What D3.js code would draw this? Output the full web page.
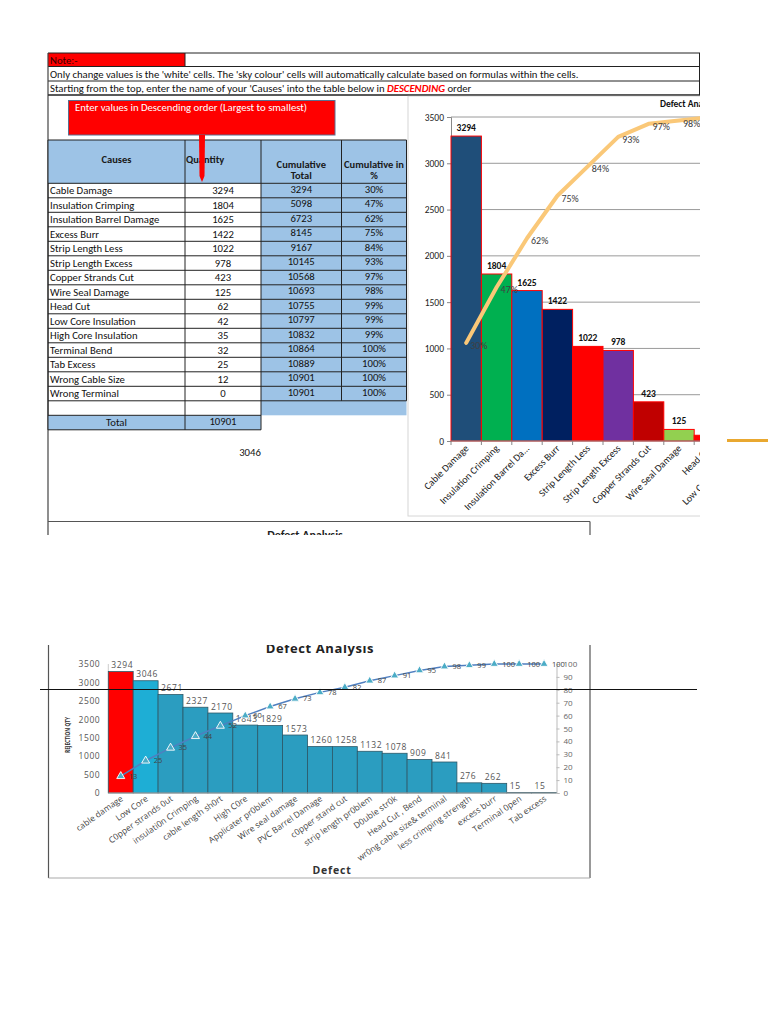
<!DOCTYPE html>
<html><head><meta charset="utf-8">
<script src="https://cdn.jsdelivr.net/npm/d3@7"></script>
<style>body{margin:0;background:#fff}svg{display:block}</style>
</head><body><svg id="c" width="768" height="1024"></svg>
<script>
// ---------- DATA (spreadsheet / top chart) ----------
const causes = ["Cable Damage","Insulation Crimping","Insulation Barrel Damage","Excess Burr","Strip Length Less","Strip Length Excess","Copper Strands Cut","Wire Seal Damage","Head Cut","Low Core Insulation","High Core Insulation","Terminal Bend","Tab Excess","Wrong Cable Size","Wrong Terminal"];
const quantities = [3294,1804,1625,1422,1022,978,423,125,62,42,35,32,25,12,0];
const cumTotals = [3294,5098,6723,8145,9167,10145,10568,10693,10755,10797,10832,10864,10889,10901,10901];
const cumPercents = [30,47,62,75,84,93,97,98,99,99,99,100,100,100,100];
const totalQty = 10901;
const looseValue = 3046;
const topBarColors = ["#1F4E79","#00B050","#0070C0","#002060","#FF0000","#7030A0","#C00000","#92D050","#FF0000","#FFC000","#4472C4","#A5A5A5","#ED7D31","#5B9BD5","#70AD47"];
const topYTicks = [0,500,1000,1500,2000,2500,3000,3500];

// ---------- DATA (bottom chart) ----------
const defects = ["cable damage","Low Core","C0pper strands 0ut","insulati0n Crimping","cable length sh0rt","High C0re","Applicater pr0blem","Wire seal damage","PVC Barrel Damage","c0pper stand cut","strip length pr0blem","D0uble str0k","Head Cut , Bend","wr0ng cable size& terminal","less crimping strength","excess burr","Terminal 0pen","Tab excess"];
const rejections = [3294,3046,2671,2327,2170,1843,1829,1573,1260,1258,1132,1078,909,841,276,262,15,15];
const defectPercents = [13,25,35,44,52,60,67,73,78,82,87,91,95,98,99,100,100,100];
const leftTicks = [0,500,1000,1500,2000,2500,3000,3500];
const rightTicks = [0,10,20,30,40,50,60,70,80,90,100];

const svg = d3.select("#c");
const FONT = "Carlito, Lato, 'Liberation Sans', sans-serif";
const FS = 10.7;
const CLIPX = 700;
const defs = svg.append("defs");
defs.append("clipPath").attr("id","clipAll").append("rect").attr("x",0).attr("y",0).attr("width",CLIPX).attr("height",535);
defs.append("clipPath").attr("id","clipChart").append("rect").attr("x",408).attr("y",95).attr("width",CLIPX-408).attr("height",421);
defs.append("clipPath").attr("id","clipBottom").append("rect").attr("x",0).attr("y",645).attr("width",768).attr("height",380);

const gTop = svg.append("g").attr("clip-path","url(#clipAll)").style("font-family",FONT);

// ---------- note rows ----------
gTop.append("rect").attr("x",48).attr("y",53).attr("width",137).attr("height",13.5).attr("fill","#FF0000");
const ln = (g,x1,y1,x2,y2,c,w)=>g.append("line").attr("x1",x1).attr("y1",y1).attr("x2",x2).attr("y2",y2).attr("stroke",c||"#222").attr("stroke-width",w||1);
ln(gTop,48,53,700,53); ln(gTop,48,66.5,700,66.5); ln(gTop,48,81,700,81); ln(gTop,48,95,700,95);
ln(gTop,185,53,185,66.5); ln(gTop,699.5,53,699.5,95);
ln(gTop,48,53,48,535,"#444",1.2);
gTop.append("text").attr("x",50).attr("y",63.5).attr("font-size",FS).attr("fill","#3a0000").text("Note:-");
gTop.append("text").attr("x",50).attr("y",77.5).attr("font-size",FS).attr("fill","#111")
  .text("Only change values is the 'white' cells. The 'sky colour' cells will automatically calculate based on formulas within the cells.");
const r3 = gTop.append("text").attr("x",50).attr("y",92).attr("font-size",FS).attr("fill","#111");
r3.append("tspan").text("Starting from the top, enter the name of your 'Causes' into the table below in ");
r3.append("tspan").attr("fill","#FF0000").attr("font-weight","bold").attr("font-style","italic").text("DESCENDING");
r3.append("tspan").text(" order");

// ---------- table ----------
const colX = [48,185,261,341.5,406.5];
const hdrTop = 140, hdrBot = 183.3, rowH = 14.5;
const tbl = gTop.append("g");
tbl.append("rect").attr("x",48).attr("y",hdrTop).attr("width",colX[4]-48).attr("height",hdrBot-hdrTop).attr("fill","#9DC3E6");
tbl.append("rect").attr("x",colX[2]).attr("y",hdrBot).attr("width",colX[4]-colX[2]).attr("height",rowH*16).attr("fill","#9DC3E6");
const rowsData = causes.map((c,i)=>({c, q:quantities[i], ct:cumTotals[i], cp:cumPercents[i], i}));
const rows = tbl.selectAll("g.row").data(rowsData).join("g").attr("class","row")
  .attr("transform",d=>`translate(0,${hdrBot+d.i*rowH})`);
rows.append("text").attr("x",50).attr("y",11).attr("font-size",FS).attr("fill","#111").text(d=>d.c);
rows.append("text").attr("x",(colX[1]+colX[2])/2).attr("y",11).attr("text-anchor","middle").attr("font-size",FS).attr("fill","#111").text(d=>d.q);
rows.append("text").attr("x",(colX[2]+colX[3])/2).attr("y",9.5).attr("text-anchor","middle").attr("font-size",FS).attr("fill","#111").text(d=>d.ct);
rows.append("text").attr("x",(colX[3]+colX[4])/2).attr("y",9.5).attr("text-anchor","middle").attr("font-size",FS).attr("fill","#111").text(d=>d.cp+"%");
const lastRow = hdrBot + rowH*causes.length;
ln(tbl,48,hdrTop,colX[4],hdrTop);
for(let i=0;i<=causes.length;i++) ln(tbl,48,hdrBot+i*rowH,colX[4],hdrBot+i*rowH);
colX.forEach(x=>ln(tbl,x,hdrTop,x,lastRow));
const emptyBot = lastRow+rowH, totBot = emptyBot+rowH;
tbl.append("rect").attr("x",48).attr("y",emptyBot).attr("width",colX[2]-48).attr("height",rowH).attr("fill","#9DC3E6");
ln(tbl,48,emptyBot,colX[2],emptyBot); ln(tbl,48,totBot,colX[2],totBot);
[48,colX[1],colX[2]].forEach(x=>ln(tbl,x,lastRow,x,totBot));
tbl.append("text").attr("x",(48+colX[1])/2).attr("y",emptyBot+11).attr("text-anchor","middle").attr("font-size",FS).attr("fill","#111").text("Total");
tbl.append("text").attr("x",(colX[1]+colX[2])/2).attr("y",emptyBot+9.5).attr("text-anchor","middle").attr("font-size",FS).attr("fill","#111").text(totalQty);
tbl.append("text").attr("x",250).attr("y",456).attr("text-anchor","middle").attr("font-size",FS).attr("fill","#111").text(looseValue);
const hdr = (x,y,t,a)=>tbl.append("text").attr("x",x).attr("y",y).attr("text-anchor",a||"middle").attr("font-size",10.5).attr("font-weight","bold").attr("fill","#1a1a1a").text(t);
hdr((48+colX[1])/2,163,"Causes");
hdr(186,163,"Quantity","start");
hdr((colX[2]+colX[3])/2,168,"Cumulative"); hdr((colX[2]+colX[3])/2,179,"Total");
hdr((colX[3]+colX[4])/2,168,"Cumulative in"); hdr((colX[3]+colX[4])/2,179,"%");

gTop.append("rect").attr("x",68.5).attr("y",100.5).attr("width",266.5).attr("height",34.5).attr("fill","#FF0000").attr("stroke","#5a6f8f").attr("stroke-width",1);
gTop.append("text").attr("x",75).attr("y",111).attr("font-size",FS).attr("fill","#fff").text("Enter values in Descending order (Largest to smallest)");
gTop.append("polygon").attr("points","199,135 205,135 204.5,176 202,182 199.5,176").attr("fill","#FF0000");

ln(gTop,48,521.5,590,521.5,"#555",1.2); ln(gTop,590,521.5,590,535,"#555",1.2);
gTop.append("text").attr("x",305).attr("y",539).attr("text-anchor","middle").attr("font-size",12).attr("font-weight","bold").attr("fill","#222").text("Defect Analysis");

// ---------- top chart (cropped at the right edge like the screenshot) ----------
gTop.append("rect").attr("x",408).attr("y",96).attr("width",300).attr("height",420).attr("fill","#fff").attr("stroke","#d6d6d6");
ln(gTop,48,95,700,95);
const ch = gTop.append("g").attr("clip-path","url(#clipChart)");
const x1 = d3.scaleBand().domain(causes).range([451,451+30.4*causes.length]).padding(0);
const y1 = d3.scaleLinear().domain([0,3500]).range([441,117]);
const p1 = d3.scaleLinear().domain([0,100]).range([441,114]);
const cx1 = c=>x1(c)+x1.bandwidth()/2;
ch.append("text").attr("x",660).attr("y",107).attr("font-size",9.5).attr("font-weight","bold").attr("fill","#111").text("Defect Analysis");
ch.selectAll("line.grid").data(topYTicks.filter(t=>t>0)).join("line").attr("class","grid")
  .attr("x1",451).attr("x2",CLIPX).attr("y1",d=>y1(d)).attr("y2",d=>y1(d)).attr("stroke","#9a9a9a").attr("stroke-width",1);
const yAx = ch.append("g").attr("transform","translate(451,0)").call(d3.axisLeft(y1).tickValues(topYTicks).tickFormat(d3.format("d")).tickSize(4).tickPadding(3));
yAx.selectAll("text").attr("font-size",9.5).attr("fill","#222").style("font-family",FONT);
yAx.selectAll("line,path").attr("stroke","#888");
ch.selectAll("rect.bar").data(causes).join("rect").attr("class","bar")
  .attr("x",d=>x1(d)).attr("y",(d,i)=>y1(quantities[i])).attr("width",x1.bandwidth())
  .attr("height",(d,i)=>y1(0)-y1(quantities[i])).attr("fill",(d,i)=>topBarColors[i]).attr("stroke","#FF0000").attr("stroke-width",1);
// only texts that fall (at least partly) inside the visible crop
const visVal = causes.filter(c=>cx1(c)-12 < CLIPX);
ch.selectAll("text.val").data(visVal).join("text").attr("class","val")
  .attr("x",d=>cx1(d)).attr("y",d=>y1(quantities[causes.indexOf(d)])-5).attr("text-anchor","middle")
  .attr("font-size",9.5).attr("font-weight","bold").attr("fill","#111").text(d=>quantities[causes.indexOf(d)]);
ln(ch,451,441,CLIPX,441,"#888");
ch.selectAll("line.xt").data(d3.range(causes.length+1)).join("line").attr("class","xt")
  .attr("x1",i=>451+i*x1.step()).attr("x2",i=>451+i*x1.step()).attr("y1",441).attr("y2",445).attr("stroke","#888");
const trunc = s=>s.length>20? s.slice(0,20)+"..." : s;
const visLab = causes.filter(c=>cx1(c)-60 < CLIPX);
ch.selectAll("text.xl").data(visLab).join("text").attr("class","xl")
  .attr("transform",d=>`translate(${cx1(d)+3},${449}) rotate(-45)`)
  .attr("text-anchor","end").attr("font-size",10).attr("fill","#222").text(d=>trunc(d));
const lineTop = d3.line().x((d,i)=>cx1(causes[i])).y(d=>p1(d));
ch.append("path").datum(cumPercents).attr("d",lineTop).attr("fill","none").attr("stroke","#FAC878").attr("stroke-width",4).attr("stroke-linejoin","round").attr("stroke-linecap","round");
const visPct = causes.filter(c=>cx1(c)+4 < CLIPX);
ch.selectAll("text.pc").data(visPct).join("text").attr("class","pc")
  .attr("x",d=>cx1(d)+4).attr("y",d=>p1(cumPercents[causes.indexOf(d)])+6)
  .attr("font-size",10).attr("fill","#404040").text(d=>cumPercents[causes.indexOf(d)]+"%");

svg.append("line").attr("x1",727).attr("x2",768).attr("y1",440.5).attr("y2",440.5).attr("stroke","#E9A830").attr("stroke-width",3);

// ---------- bottom chart ----------
const bot = svg.append("g").attr("clip-path","url(#clipBottom)").style("font-family","'Open Sans', sans-serif");
ln(bot,48.5,645,48.5,878,"#555",1.2); ln(bot,590,645,590,878,"#555",1.2); ln(bot,48.5,878,590,878,"#aaa",1.2);
bot.append("text").attr("x",320).attr("y",652.5).attr("text-anchor","middle").attr("font-size",13).attr("font-weight","bold").attr("letter-spacing",0.6).attr("fill","#222").text("Defect Analysis");
const x2 = d3.scaleBand().domain(defects).range([108.3,556.5]).padding(0);
const y2 = d3.scaleLinear().domain([0,3500]).range([793,664]);
const p2 = d3.scaleLinear().domain([0,100]).range([793,664]);
ln(bot,108.3,664,108.3,793,"#ccc");
const la = bot.append("g").attr("transform","translate(108.3,0)").call(d3.axisLeft(y2).tickValues(leftTicks).tickFormat(d3.format("d")).tickSize(0).tickPadding(8));
la.select("path").remove();
la.selectAll("text").attr("font-size",8.5).attr("fill","#555").attr("letter-spacing",0.6).style("font-family","'Open Sans', sans-serif");
bot.append("text").attr("transform","translate(70,735) rotate(-90)").attr("text-anchor","middle").attr("font-size",7).attr("font-weight","bold")
  .attr("fill","#333").attr("textLength",36).attr("lengthAdjust","spacingAndGlyphs").text("REJECTION QTY");
bot.selectAll("rect.b2").data(defects).join("rect").attr("class","b2")
  .attr("x",d=>x2(d)).attr("y",(d,i)=>y2(rejections[i])).attr("width",x2.bandwidth())
  .attr("height",(d,i)=>y2(0)-y2(rejections[i]))
  .attr("fill",(d,i)=>i===0?"#FF0000":(i===1?"#1EAED5":"#2B9DC0")).attr("stroke","#2c5868").attr("stroke-width",0.8);
ln(bot,108.3,793,556.5,793,"#aaa");
const ra = bot.append("g").attr("transform","translate(556.5,0)").call(d3.axisRight(p2).tickValues(rightTicks).tickSize(3).tickPadding(4));
ra.select("path").attr("stroke","#bbb"); ra.selectAll("line").attr("stroke","#bbb");
ra.selectAll("text").attr("font-size",8).attr("fill","#666").style("font-family","'Open Sans', sans-serif");
bot.selectAll("text.v2").data(defects).join("text").attr("class","v2")
  .attr("x",d=>x2(d)+3).attr("y",(d,i)=>y2(rejections[i])-3.5)
  .attr("font-size",8.5).attr("letter-spacing",0.6).attr("fill","#555").text((d,i)=>rejections[i]);
const cx2 = i=>x2(defects[i])+x2.bandwidth()/2;
bot.append("path").datum(defectPercents).attr("d",d3.line().x((d,i)=>cx2(i)).y(d=>p2(d)))
  .attr("fill","none").attr("stroke","#4F7FC0").attr("stroke-width",1.5);
bot.selectAll("path.mk").data(defectPercents).join("path").attr("class","mk")
  .attr("transform",(d,i)=>`translate(${cx2(i)},${p2(d)})`).attr("d",d3.symbol(d3.symbolTriangle).size(28))
  .attr("fill","#4BACC6").attr("stroke","#fff").attr("stroke-width",0.9);
bot.selectAll("text.p2").data(defectPercents).join("text").attr("class","p2")
  .attr("x",(d,i)=>cx2(i)+8).attr("y",d=>p2(d)+2.5).attr("font-size",7.5).attr("fill","#444").text(d=>d);
bot.selectAll("text.xl2").data(defects).join("text").attr("class","xl2")
  .attr("transform",d=>`translate(${x2(d)+x2.bandwidth()/2+3},800) rotate(-35)`)
  .attr("text-anchor","end").attr("font-size",8.5).attr("fill","#444").text(d=>d);
bot.append("text").attr("x",332).attr("y",874).attr("text-anchor","middle").attr("font-size",10.5).attr("font-weight","bold").attr("letter-spacing",0.8).attr("fill","#333").text("Defect");

ln(svg,40,689.5,697,689.5,"#111",1.2);
</script></body></html>
